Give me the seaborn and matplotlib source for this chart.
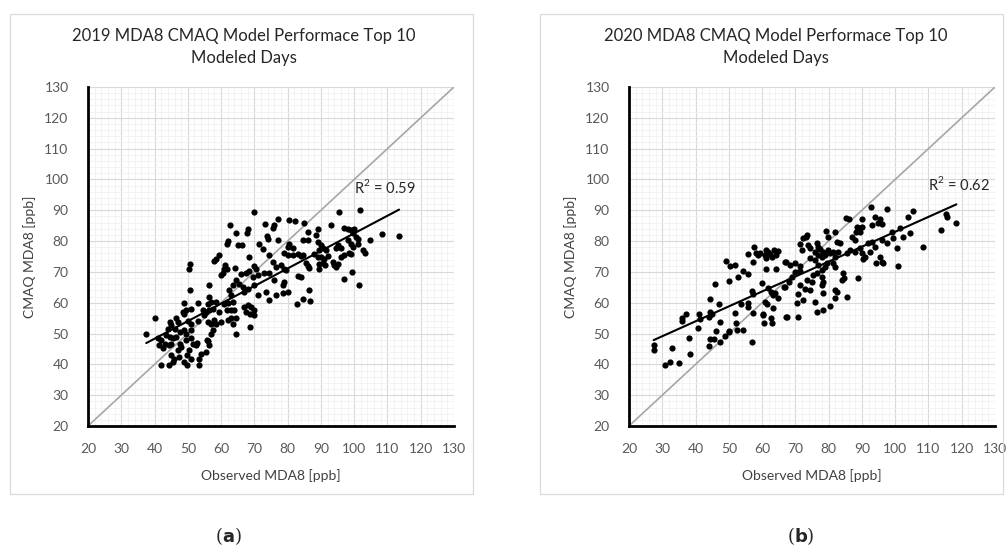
import numpy as np
import matplotlib
matplotlib.use("Agg")
import matplotlib.pyplot as plt
from matplotlib.patches import Rectangle
import seaborn as sns

# observed vs modelled MDA8 (ppb)
obs_2019 = [70.0, 77.0, 80.5, 73.3, 75.8, 75.5, 62.8, 64.5, 68.0, 67.8, 73.8, 74.0, 77.0, 62.0, 61.8,
            65.0, 66.2, 71.5, 72.5, 80.5, 80.0, 79.0, 80.0, 74.5, 68.5, 59.5, 58.5, 57.8, 50.8, 50.5,
            61.2, 61.8, 60.8, 64.3, 60.0, 60.5, 66.0, 67.5, 68.5, 70.0, 70.5, 75.5, 76.5, 78.0, 79.0,
            73.0, 74.5, 69.5, 71.0, 64.5, 63.5, 65.5, 66.5, 67.0, 68.0, 70.0, 71.0, 76.0, 79.0, 78.5,
            73.5, 74.5, 76.5, 78.5, 80.0, 56.3, 50.8, 62.5, 63.0, 49.0, 56.5, 57.0, 58.5, 56.0, 53.0,
            61.0, 62.0, 63.5, 51.0, 49.5, 48.5, 49.0, 54.5, 55.5, 56.5, 57.5, 59.5, 61.8, 63.0, 64.0,
            67.0, 68.0, 69.0, 67.5, 69.8, 68.8, 70.0, 40.0, 44.5, 45.0, 46.5, 47.0, 50.0, 51.0, 53.0,
            55.0, 56.0, 58.0, 58.5, 57.0, 60.0, 62.0, 63.0, 64.5, 63.5, 44.0, 46.0, 47.5, 49.0, 51.0,
            49.5, 57.5, 57.0, 68.8, 64.5, 37.5, 41.0, 42.0, 44.5, 45.5, 46.5, 49.5, 51.0, 56.0, 43.0,
            45.0, 47.5, 51.5, 41.4, 42.4, 43.4, 44.4, 44.9, 45.9, 45.4, 46.9, 47.9, 47.4, 50.4, 49.9,
            50.9, 52.4, 52.9, 53.9, 55.4, 53.4, 41.9, 44.4, 48.9, 49.7, 53.4, 55.9, 56.4,
            95.5, 101.7, 82.3, 85.0, 93.0, 89.0, 86.0, 97.0, 98.0, 99.0, 100.0, 99.5, 100.5, 101.0, 88.5,
            84.5, 86.0, 108.5, 113.5, 104.7, 81.5, 89.2, 90.0, 90.5, 91.5, 89.5, 95.0, 96.0, 94.5, 98.0,
            99.0, 99.5, 101.0, 102.5, 103.3, 81.5, 83.0, 84.0, 84.5, 88.0, 89.0, 90.0, 91.0, 92.0, 96.0,
            97.0, 98.5, 99.0, 85.5, 86.0, 86.5, 89.5, 90.5, 91.3, 89.5, 93.5, 94.0, 95.0, 94.5, 79.5,
            83.0, 84.0, 99.3, 97.0, 101.3, 86.5, 84.5, 86.7, 82.7]
cmaq_2019 = [89.5, 87.3, 87.0, 85.7, 85.2, 84.4, 85.2, 82.7, 83.9, 82.5, 81.6, 80.8, 80.5, 80.0, 78.9,
             78.7, 78.7, 79.0, 77.3, 79.2, 78.1, 76.2, 75.4, 75.6, 74.9, 75.4, 74.3, 73.6, 72.7, 70.8,
             72.2, 70.8, 71.1, 71.3, 68.9, 69.5, 69.2, 69.7, 70.3, 71.9, 70.8, 73.3, 71.6, 72.2, 71.1,
             69.7, 69.5, 68.4, 68.9, 67.3, 65.7, 66.2, 65.1, 63.5, 64.6, 65.7, 62.4, 67.3, 66.8, 65.7,
             63.5, 60.8, 62.4, 63.2, 63.5, 65.7, 64.1, 64.1, 62.4, 60.0, 61.9, 60.3, 60.3, 59.7, 60.0,
             59.7, 60.0, 60.3, 58.1, 57.8, 57.0, 56.3, 57.8, 57.0, 57.6, 58.1, 57.0, 57.6, 57.8, 57.6,
             58.6, 59.2, 58.6, 57.0, 57.8, 56.3, 55.9, 54.9, 53.8, 52.7, 54.9, 53.8, 54.1, 53.2, 54.0,
             55.9, 53.8, 54.3, 53.2, 53.2, 53.8, 54.3, 54.9, 55.2, 53.2, 51.6, 51.6, 50.5, 51.1, 51.1,
             50.0, 51.1, 50.0, 52.2, 49.7, 49.7, 48.4, 47.8, 48.9, 48.4, 48.9, 47.8, 48.4, 47.6, 46.7,
             46.7, 46.7, 46.7, 46.3, 45.2, 49.5, 46.3, 43.0, 41.9, 40.9, 44.6, 45.7, 42.5, 44.6, 43.0,
             41.9, 46.3, 46.8, 43.5, 44.1, 41.9, 39.8, 39.8, 40.9, 39.8, 39.8, 47.9, 46.3,
             89.5, 90.0, 86.5, 85.9, 85.2, 83.8, 83.0, 84.1, 83.8, 83.5, 83.8, 82.5, 81.4, 80.8, 81.9,
             80.5, 80.5, 82.2, 81.6, 80.3, 77.9, 79.8, 78.7, 77.6, 77.0, 77.0, 78.7, 77.6, 77.9, 80.3,
             79.2, 78.1, 79.2, 77.0, 76.2, 75.4, 75.7, 75.1, 75.4, 75.9, 74.9, 74.9, 74.3, 75.1, 74.9,
             75.4, 76.2, 75.7, 73.0, 71.9, 71.4, 72.5, 73.0, 72.2, 70.8, 73.3, 72.2, 72.7, 71.6, 70.5,
             68.7, 68.2, 70.0, 67.8, 65.7, 64.1, 61.3, 60.6, 59.5]

obs_2020 = [27.4, 27.4, 30.9, 32.4, 32.9, 35.1, 38.0, 38.2, 43.9, 44.4, 45.4, 47.4, 48.9, 50.2, 56.9,
            57.6, 55.9, 58.2, 58.9, 59.4, 61.2, 61.9, 60.9, 62.4, 63.6, 64.9, 64.2, 62.9, 57.4, 61.2,
            67.2, 49.2, 50.4, 51.9, 54.2, 55.9, 52.9, 50.2, 61.2, 64.2, 45.9, 59.9, 56.9, 57.4, 61.9,
            62.6, 63.9, 64.9, 63.4, 66.6, 44.4, 46.9, 53.6, 55.9, 55.9, 44.4, 44.9, 51.9, 57.4, 60.2,
            61.4, 60.9, 63.4, 67.2, 37.2, 35.9, 35.9, 40.9, 41.2, 43.9, 40.7, 47.2, 46.2, 50.1, 52.4,
            54.4, 52.2, 60.6, 62.9, 62.6, 60.4,
            92.7, 97.4, 105.4, 103.9, 115.4, 115.7, 118.4, 113.7, 85.2, 86.1, 90.1, 93.9, 95.4, 94.7, 93.1,
            95.9, 88.4, 89.4, 90.1, 88.1, 89.4, 86.9, 87.9, 79.1, 81.9, 73.4, 72.4, 73.1, 79.9, 82.4,
            83.4, 98.9, 101.4, 104.4, 102.4, 99.4, 92.9, 93.9, 95.9, 97.4, 100.4, 108.4, 71.4, 73.9, 74.4,
            71.9, 76.4, 76.9, 77.4, 75.9, 78.4, 76.9, 77.9, 78.9, 79.9, 80.4, 81.4, 81.9, 82.9, 85.4,
            86.4, 87.9, 89.4, 89.9, 90.9, 90.4, 91.9, 92.4, 95.4, 95.9, 94.1, 96.4, 100.9, 66.9, 68.4,
            69.9, 71.4, 74.4, 75.9, 76.9, 78.9, 77.9, 79.4, 81.4, 81.9, 69.9, 71.4, 68.9, 68.1, 66.9,
            75.4, 73.4, 74.9, 77.9, 78.4, 76.4, 84.4, 84.7, 84.1, 88.7, 71.4, 72.9, 74.4, 77.9, 78.4,
            81.9, 82.4, 70.9, 70.4, 72.4, 75.9, 76.4, 78.4, 80.4, 81.9, 85.4, 67.4, 70.7]
cmaq_2020 = [46.3, 44.5, 39.7, 40.8, 45.4, 40.3, 48.4, 43.5, 45.8, 48.1, 48.1, 47.2, 49.3, 50.6, 47.2,
             78.2, 75.7, 76.0, 75.5, 76.2, 77.1, 76.6, 75.5, 75.8, 77.1, 76.9, 75.5, 75.0, 73.1, 74.4,
             73.1, 73.5, 72.0, 72.2, 70.4, 69.2, 68.2, 67.0, 71.1, 70.8, 66.1, 66.3, 63.9, 62.8, 64.7,
             63.6, 63.0, 61.4, 62.5, 65.0, 61.1, 59.6, 59.6, 60.0, 58.5, 57.1, 56.5, 56.8, 56.8, 56.3,
             59.6, 60.3, 58.2, 55.4, 56.3, 54.9, 54.2, 56.3, 54.6, 55.5, 51.7, 53.8, 50.9, 50.9, 51.3,
             51.3, 53.5, 53.3, 53.3, 55.2, 56.0,
             91.0, 90.3, 89.9, 87.9, 88.8, 87.9, 85.8, 83.6, 87.4, 87.1, 87.2, 87.7, 87.1, 86.0, 85.2,
             85.5, 84.5, 84.1, 84.7, 83.1, 83.1, 81.4, 80.3, 83.4, 83.1, 82.0, 80.9, 81.4, 81.2, 79.8,
             79.3, 83.1, 84.1, 82.7, 81.4, 80.9, 79.8, 78.2, 80.3, 79.3, 77.6, 78.2, 79.0, 78.7, 77.6,
             77.1, 79.3, 78.2, 77.3, 76.6, 76.6, 75.5, 74.9, 75.5, 77.1, 76.0, 76.6, 74.9, 76.6, 76.0,
             77.1, 76.6, 77.6, 76.0, 74.9, 74.1, 79.3, 76.6, 74.9, 73.3, 72.8, 72.8, 72.0, 73.3, 72.2,
             72.8, 71.9, 74.4, 73.8, 72.2, 71.7, 70.6, 72.8, 72.8, 71.7, 70.1, 70.4, 68.4, 66.8, 65.2,
             69.0, 67.4, 66.8, 68.4, 66.8, 69.5, 69.5, 67.9, 67.4, 67.9, 65.7, 64.6, 64.1, 65.7, 63.1,
             64.1, 63.6, 62.8, 59.8, 60.9, 60.3, 57.1, 57.8, 58.9, 61.4, 61.9, 55.5, 55.5]

titles = ["2019 MDA8 CMAQ Model Performace Top 10\nModeled Days",
          "2020 MDA8 CMAQ Model Performace Top 10\nModeled Days"]
r2_labels = ["R$^2$ = 0.59", "R$^2$ = 0.62"]
panel_tags = ["a", "b"]

sns.set_style("white")
plt.rcParams["font.family"] = ["Lato", "DejaVu Sans"]
plt.rcParams["mathtext.fontset"] = "custom"
plt.rcParams["mathtext.rm"] = "Lato"

W, H = 1006, 559
fig = plt.figure(figsize=(W / 100, H / 100), dpi=100)

def fx(px):
    return px / W

def fy(py):
    return 1 - py / H

panels = [
    dict(obs=obs_2019, cmaq=cmaq_2019, box=10, ax_x=88, title_x=244, r2=(100, 95.5), tag_x=228),
    dict(obs=obs_2020, cmaq=cmaq_2020, box=540, ax_x=629, title_x=776, r2=(110, 96.5), tag_x=801),
]

for i, p in enumerate(panels):
    # chart-area border
    fig.patches.append(Rectangle((fx(p["box"]), fy(494)), fx(463), 480 / H, transform=fig.transFigure,
                                 fill=False, edgecolor="#d9d9d9", lw=0.9))
    ax = fig.add_axes([fx(p["ax_x"]), fy(426), fx(366), (426 - 87) / H])
    ax.set_xlim(20, 130)
    ax.set_ylim(20, 130)
    ax.set_xticks(np.arange(20, 131, 10))
    ax.set_yticks(np.arange(20, 131, 10))
    ax.set_xticks(np.arange(20, 131, 2), minor=True)
    ax.set_yticks(np.arange(20, 131, 2), minor=True)
    ax.grid(which="major", color="#d9d9d9", lw=0.8)
    ax.grid(which="minor", color="#efefef", lw=0.5)
    ax.set_axisbelow(True)
    ax.tick_params(which="both", length=0, labelsize=10, labelcolor="#595959")
    ax.tick_params(axis="x", pad=12)
    ax.tick_params(axis="y", pad=14)
    for s in ["top", "right"]:
        ax.spines[s].set_visible(False)
    for s in ["left", "bottom"]:
        ax.spines[s].set_color("black")
        ax.spines[s].set_linewidth(2)

    ax.axline((20, 20), slope=1, color="#a6a6a6", lw=1.2, zorder=1)
    sns.regplot(x=p["obs"], y=p["cmaq"], ax=ax, ci=None, truncate=True,
                scatter_kws=dict(s=20, color="black", alpha=1, linewidths=0, zorder=3),
                line_kws=dict(color="black", lw=1.5, zorder=4))
    ax.text(p["r2"][0], p["r2"][1], r2_labels[i], fontsize=10.5, color="#262626")

    ax.set_xlabel("Observed MDA8 [ppb]", fontsize=10, color="#404040", labelpad=10)
    ax.set_ylabel("CMAQ MDA8 [ppb]", fontsize=10, color="#404040", labelpad=6)

    fig.text(fx(p["title_x"]), fy(47), titles[i], ha="center", va="center", fontsize=12,
             color="#262626", linespacing=1.4)
    fig.text(fx(p["tag_x"]), fy(536), "(" + r"$\mathbf{" + panel_tags[i] + "}$" + ")",
             ha="center", va="center", fontsize=13, family=["DejaVu Serif"])

fig.savefig("out.png", dpi=100)
